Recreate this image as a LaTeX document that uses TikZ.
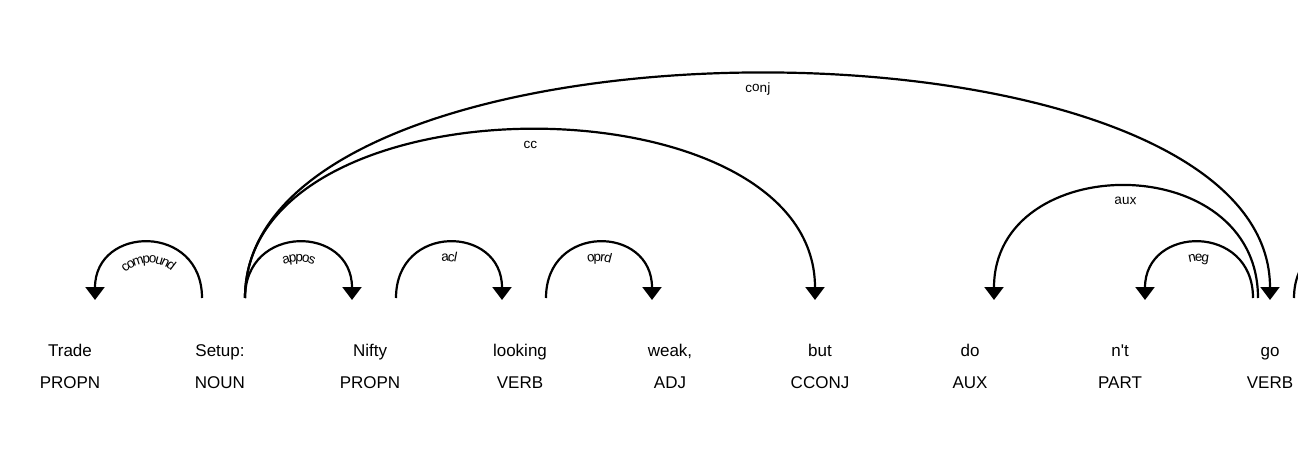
\documentclass[tikz,border=0pt]{standalone}
\usepackage{fontspec}
\setmainfont{Liberation Sans}
\newfontfamily\arcfam[LetterSpace=7]{Liberation Sans}
\newcommand\arcfont{\arcfam\fontsize{13.5}{15}\selectfont}
\usetikzlibrary{arrows.meta,decorations.text}
\tikzset{
  word/.style={anchor=base, inner sep=0pt, font=\fontsize{17}{20}\selectfont},
  arcline/.style={line width=2.2pt, draw=black},
  tipL/.style={{Triangle[length=13pt,width=19pt]}-},
  tipR/.style={-{Triangle[length=13pt,width=19pt]}},
  arclabel/.style={decorate, decoration={text along path, text={|\arcfont|#1}, text align=center}},
  arclabeltight/.style={decorate, decoration={text along path, text={|\arcfont|#1}, text align=center, raise=-9pt}},
}
\begin{document}
\begin{tikzpicture}[x=1pt,y=1pt]
\fill[white] (0,0) rectangle (1298,451);
\clip (0,0) rectangle (1298,451);
\useasboundingbox (0,0) rectangle (1298,451);
% words
\node[word] (w0) at (70,95) {Trade};
\node[word] (w1) at (220,95) {Setup:};
\node[word] (w2) at (370,95) {Nifty};
\node[word] (w3) at (520,95) {looking};
\node[word] (w4) at (670,95) {weak,};
\node[word] (w5) at (820,95) {but};
\node[word] (w6) at (970,95) {do};
\node[word] (w7) at (1120,95) {n\textquotesingle t};
\node[word] (w8) at (1270,95) {go};
% tags
\node[word] (t0) at (70,63) {PROPN};
\node[word] (t1) at (220,63) {NOUN};
\node[word] (t2) at (370,63) {PROPN};
\node[word] (t3) at (520,63) {VERB};
\node[word] (t4) at (670,63) {ADJ};
\node[word] (t5) at (820,63) {CCONJ};
\node[word] (t6) at (970,63) {AUX};
\node[word] (t7) at (1120,63) {PART};
\node[word] (t8) at (1270,63) {VERB};
% arc anchors
\coordinate (cmpL) at (95,151);
\coordinate (cmpR) at (202,153);
\coordinate (setupA) at (245,153);
\coordinate (appR) at (352,151);
\coordinate (aclL) at (396,153);
\coordinate (aclR) at (502,151);
\coordinate (oprL) at (546,153);
\coordinate (oprR) at (652,151);
\coordinate (ccR) at (815,151);
\coordinate (cnjR) at (1270,151);
\coordinate (auxL) at (994,151);
\coordinate (auxR) at (1258,153);
\coordinate (negL) at (1145,151);
\coordinate (negR) at (1253,153);
\coordinate (pS) at (1294,153);
\coordinate (pE) at (1401,151);
% arcs
\draw[arcline,tipL] (cmpL) .. controls +(0,75) and +(0,75) .. (cmpR);
\path[arclabeltight=compound] ([xshift=12pt]cmpL) .. controls +(0,60) and +(0,60) .. ([xshift=-12pt]cmpR);
\draw[arcline,tipR] (setupA) .. controls +(0,75) and +(0,75) .. (appR);
\path[arclabeltight=appos] ([xshift=10pt]setupA) .. controls +(0,62) and +(0,62) .. ([xshift=-10pt]appR);
\draw[arcline,tipR] (aclL) .. controls +(0,75) and +(0,75) .. (aclR);
\path[arclabeltight=acl] ([xshift=10pt]aclL) .. controls +(0,62) and +(0,62) .. ([xshift=-10pt]aclR);
\draw[arcline,tipR] (oprL) .. controls +(0,75) and +(0,75) .. (oprR);
\path[arclabeltight=oprd] ([xshift=10pt]oprL) .. controls +(0,62) and +(0,62) .. ([xshift=-10pt]oprR);
\draw[arcline,tipR] (setupA) .. controls +(0,225) and +(0,225) .. (ccR);
\path[arclabel=cc] ([xshift=18pt]setupA) .. controls +(0,201) and +(0,201) .. ([xshift=-18pt]ccR);
\draw[arcline,tipR] (setupA) .. controls +(0,300) and +(0,300) .. (cnjR);
\path[arclabel=conj] ([xshift=18pt]setupA) .. controls +(0,276) and +(0,276) .. ([xshift=-18pt]cnjR);
\draw[arcline,tipL] (auxL) .. controls +(0,150) and +(0,150) .. (auxR);
\path[arclabel=aux] ([xshift=18pt]auxL) .. controls +(0,126) and +(0,126) .. ([xshift=-18pt]auxR);
\draw[arcline,tipL] (negL) .. controls +(0,75) and +(0,75) .. (negR);
\path[arclabeltight=neg] ([xshift=10pt]negL) .. controls +(0,62) and +(0,62) .. ([xshift=-10pt]negR);
\draw[arcline] (pS) .. controls +(0,75) and +(0,75) .. (pE);
\end{tikzpicture}
\end{document}
